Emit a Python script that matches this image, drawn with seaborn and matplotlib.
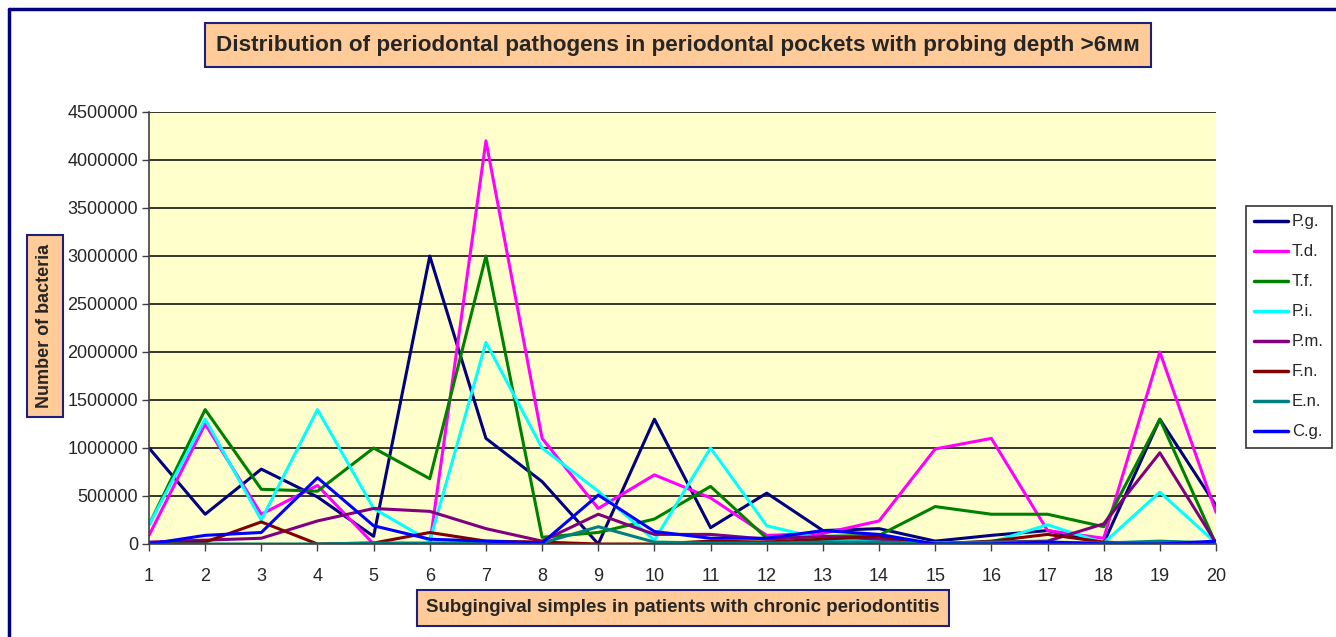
import numpy as np
import pandas as pd
import seaborn as sns
import matplotlib.pyplot as plt
from matplotlib.lines import Line2D

# samples 1..20, bacteria counts
samples = list(range(1, 21))
pg = [1000000, 310000, 780000, 490000, 80000, 3000000, 1100000, 650000, 0, 1300000,
      170000, 530000, 140000, 160000, 30000, 90000, 140000, 10000, 1300000, 400000]
td = [90000, 1250000, 310000, 610000, 0, 0, 4200000, 1100000, 370000, 720000,
      480000, 90000, 110000, 240000, 990000, 1100000, 140000, 60000, 2000000, 330000]
tf = [200000, 1400000, 570000, 550000, 1000000, 680000, 3000000, 70000, 120000, 260000,
      600000, 60000, 80000, 90000, 390000, 310000, 310000, 180000, 1300000, 0]
pi = [200000, 1300000, 250000, 1400000, 370000, 30000, 2100000, 1000000, 550000, 40000,
      1000000, 190000, 50000, 20000, 10000, 20000, 200000, 10000, 540000, 10000]
pm = [20000, 40000, 60000, 240000, 370000, 340000, 160000, 30000, 310000, 100000,
      100000, 50000, 80000, 50000, 0, 20000, 30000, 210000, 950000, 10000]
fn = [0, 20000, 230000, 0, 10000, 120000, 30000, 20000, 0, 0,
      30000, 20000, 50000, 80000, 0, 30000, 100000, 20000, 0, 20000]
en = [0, 0, 0, 0, 10000, 10000, 10000, 10000, 180000, 20000,
      10000, 10000, 20000, 20000, 10000, 20000, 20000, 10000, 30000, 10000]
cg = [0, 90000, 120000, 690000, 190000, 50000, 30000, 10000, 510000, 130000,
      60000, 60000, 140000, 100000, 0, 0, 20000, 0, 0, 30000]

names = ['P.g.', 'T.d.', 'T.f.', 'P.i.', 'P.m.', 'F.n.', 'E.n.', 'C.g.']
colors = ['#000080', '#FF00FF', '#008000', '#00FFFF', '#800080', '#800000', '#008080', '#0000FF']
yticks = list(range(0, 4500001, 500000))

series = [pg, td, tf, pi, pm, fn, en, cg]
df = pd.concat([pd.DataFrame({'sample': samples, 'count': s, 'pathogen': n})
                for n, s in zip(names, series)], ignore_index=True)

sns.set_style('white')
plt.rcParams['font.family'] = ['Liberation Sans', 'DejaVu Sans']

fig = plt.figure(figsize=(13.36, 6.37), dpi=100)
ax = fig.add_axes([149/1336, 93/637, (1216-149)/1336, (544-112)/637])
ax.set_facecolor('#FFFFCC')

sns.lineplot(data=df, x='sample', y='count', hue='pathogen', hue_order=names,
             palette=colors, linewidth=2.2, ax=ax, legend=False)

ax.set_xlim(1, 20)
ax.set_ylim(0, 4500000)
ax.set_xticks(samples)
ax.set_yticks(yticks)
ax.set_yticklabels([str(v) for v in yticks])
ax.grid(axis='y', color='black', linewidth=1.1)
ax.set_axisbelow(True)
for s in ['top', 'right']:
    ax.spines[s].set_visible(False)
for s in ['left', 'bottom']:
    ax.spines[s].set_color('#404040')
    ax.spines[s].set_linewidth(1.2)
ax.tick_params(axis='both', direction='out', length=5, width=1, color='#404040',
               labelsize=13, bottom=True, left=True)
ax.tick_params(axis='x', pad=12)
ax.tick_params(axis='y', pad=3)
ax.set_xlabel('')
ax.set_ylabel('')

# title and axis titles in boxes
box = dict(boxstyle='square,pad=0.5', facecolor='#FFCC99', edgecolor='#1F1F7A', linewidth=1.5)
fig.text(678/1336, 1 - 45/637, 'Distribution of periodontal pathogens in periodontal pockets with probing depth >6мм',
         ha='center', va='center', fontsize=16.2, fontweight='bold', bbox=box)
fig.text(683/1336, 1 - 608/637, 'Subgingival simples in patients with chronic periodontitis',
         ha='center', va='center', fontsize=13.5, fontweight='bold', bbox=box)
fig.text(45/1336, 1 - 326/637, 'Number of bacteria', rotation=90,
         ha='center', va='center', fontsize=13, fontweight='bold', bbox=box)

# legend
handles = [Line2D([0], [0], color=c, linewidth=2.5) for c in colors]
leg = fig.legend(handles, names, loc='upper left', bbox_to_anchor=(1246/1336, 1 - 206/637),
                 fontsize=12, frameon=True, fancybox=False, handlelength=2.0,
                 labelspacing=0.9, borderpad=0.5, handletextpad=0.25, borderaxespad=0)
leg.get_frame().set_edgecolor('black')
leg.get_frame().set_linewidth(1.2)

# outer border of the chart
fig.add_artist(Line2D([9/1336, 9/1336], [0, 1 - 9/637], color='#000080', linewidth=2.5))
fig.add_artist(Line2D([9/1336, 1], [1 - 9/637, 1 - 9/637], color='#000080', linewidth=2.5))

fig.savefig('out.png', dpi=100)
